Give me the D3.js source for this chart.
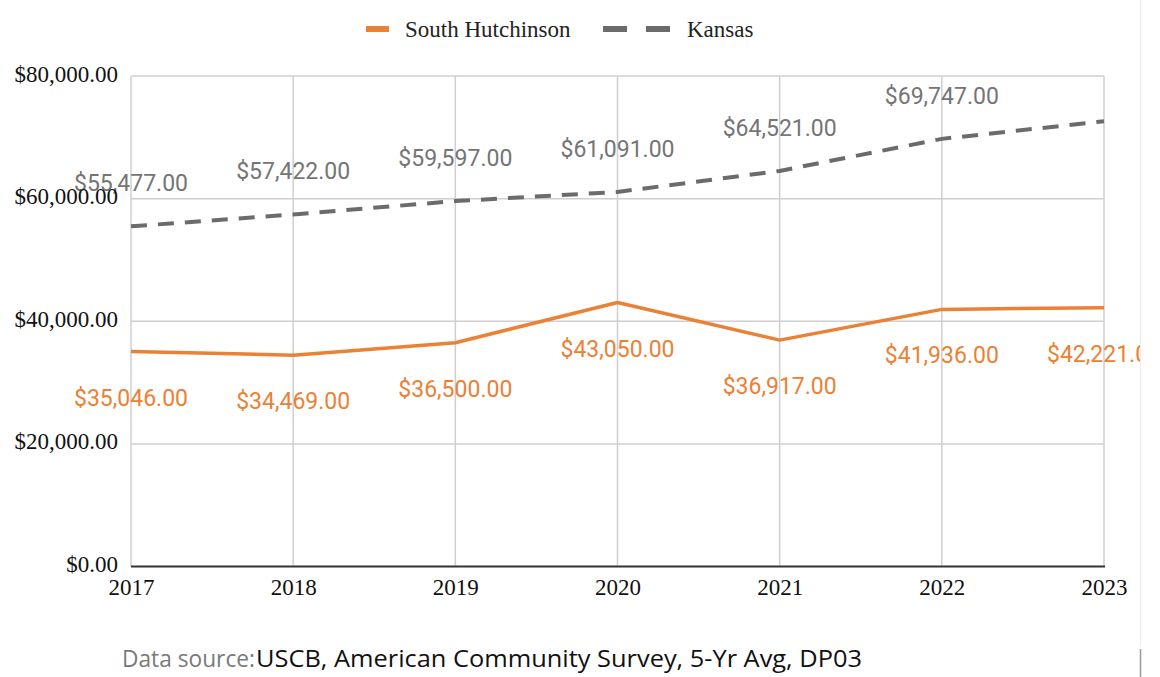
<!DOCTYPE html>
<html>
<head>
<meta charset="utf-8">
<script src="https://cdn.jsdelivr.net/npm/d3@7"></script>
<style>
  html, body { margin: 0; padding: 0; background: #fff; }
  svg { display: block; }
</style>
</head>
<body>
<svg id="chart" width="1160" height="677"></svg>
<script>
// Median household income, 5-year ACS estimates
const years = ["2017", "2018", "2019", "2020", "2021", "2022", "2023"];
const southHutchinson = [35046, 34469, 36500, 43050, 36917, 41936, 42221];
const kansas = [55477, 57422, 59597, 61091, 64521, 69747, 72620];
const kansasLabelShown = [true, true, true, true, true, true, false];
const yTicks = [0, 20000, 40000, 60000, 80000];
const seriesNames = ["South Hutchinson", "Kansas"];

const W = 1160, H = 677;
const plot = { left: 131, right: 1104, top: 76, bottom: 566.5 };
const ORANGE = "#eb8135";
const GREY = "#6b6b6b";
const LABEL_GREY = "#757575";
const SERIF = "'Liberation Serif', 'Times New Roman', serif";
const SANS = "Roboto, 'Liberation Sans', sans-serif";

const svg = d3.select("#chart");

const x = d3.scalePoint().domain(years).range([plot.left, plot.right]);
const y = d3.scaleLinear().domain([0, 80000]).range([plot.bottom, plot.top]);
const money = v => "$" + d3.format(",.2f")(v);

svg.append("defs").append("clipPath").attr("id", "chartClip")
  .append("rect").attr("x", 0).attr("y", 0).attr("width", 1140).attr("height", H);

const g = svg.append("g").attr("clip-path", "url(#chartClip)");

// horizontal gridlines
g.append("g").selectAll("line").data(yTicks.filter(t => t > 0)).join("line")
  .attr("x1", plot.left).attr("x2", plot.right)
  .attr("y1", d => y(d)).attr("y2", d => y(d))
  .attr("stroke", "#cfcfcf").attr("stroke-width", 1.5);

// vertical gridlines
g.append("g").selectAll("line").data(years).join("line")
  .attr("x1", d => x(d)).attr("x2", d => x(d))
  .attr("y1", plot.top).attr("y2", plot.bottom)
  .attr("stroke", "#cfcfcf").attr("stroke-width", 1.5);

// baseline
g.append("line")
  .attr("x1", plot.left).attr("x2", plot.right + 1)
  .attr("y1", y(0)).attr("y2", y(0))
  .attr("stroke", "#333").attr("stroke-width", 2);

// y-axis labels
const yAxis = d3.axisLeft(y).tickValues(yTicks).tickSize(0).tickPadding(13).tickFormat(money);
const yg = svg.append("g").attr("transform", `translate(${plot.left},0)`).call(yAxis);
yg.select(".domain").remove();
yg.selectAll("text")
  .attr("font-family", SERIF).attr("font-size", 23).attr("fill", "#111")
  .attr("dy", "0.22em");

// x-axis labels
const xAxis = d3.axisBottom(x).tickSize(0).tickPadding(12);
const xg = svg.append("g").attr("transform", `translate(0,${plot.bottom})`).call(xAxis);
xg.select(".domain").remove();
xg.selectAll("text")
  .attr("font-family", SERIF).attr("font-size", 23).attr("fill", "#111");

// series lines
const line = d3.line().x((d, i) => x(years[i])).y(d => y(d));

g.append("path").datum(kansas)
  .attr("d", line).attr("fill", "none")
  .attr("stroke", GREY).attr("stroke-width", 4)
  .attr("stroke-dasharray", "16 11");

g.append("path").datum(southHutchinson)
  .attr("d", line).attr("fill", "none")
  .attr("stroke", ORANGE).attr("stroke-width", 3.5)
  .attr("stroke-linejoin", "round");

// data labels
g.append("g").selectAll("text").data(kansas.filter((d, i) => kansasLabelShown[i])).join("text")
  .attr("x", (d, i) => x(years[i]))
  .attr("y", d => y(d) - 43)
  .attr("dy", "0.35em")
  .attr("text-anchor", "middle")
  .attr("font-family", SANS).attr("font-size", 23).attr("fill", LABEL_GREY)
  .text(money);

g.append("g").selectAll("text").data(southHutchinson).join("text")
  .attr("x", (d, i) => x(years[i]))
  .attr("y", d => y(d) + 46)
  .attr("dy", "0.35em")
  .attr("text-anchor", "middle")
  .attr("font-family", SANS).attr("font-size", 23).attr("fill", ORANGE)
  .text(money);

// legend
const legend = svg.append("g");
legend.append("rect").attr("x", 366).attr("y", 26).attr("width", 23).attr("height", 6).attr("fill", ORANGE);
legend.append("text").attr("x", 405).attr("y", 29).attr("dy", "0.33em")
  .attr("font-family", SERIF).attr("font-size", 23).attr("fill", "#222").text(seriesNames[0]);
legend.append("rect").attr("x", 603).attr("y", 26).attr("width", 24).attr("height", 6).attr("fill", GREY);
legend.append("rect").attr("x", 646).attr("y", 26).attr("width", 24).attr("height", 6).attr("fill", GREY);
legend.append("text").attr("x", 687).attr("y", 29).attr("dy", "0.33em")
  .attr("font-family", SERIF).attr("font-size", 23).attr("fill", "#222").text(seriesNames[1]);

// right frame edge
svg.append("line").attr("x1", 1140.5).attr("x2", 1140.5).attr("y1", 0).attr("y2", 646)
  .attr("stroke", "#ececec").attr("stroke-width", 1);
svg.append("line").attr("x1", 1140.5).attr("x2", 1140.5).attr("y1", 649).attr("y2", H)
  .attr("stroke", "#9a9a9a").attr("stroke-width", 1.5);

// source note
svg.append("text").attr("x", 122).attr("y", 667)
  .attr("font-family", "'Open Sans', 'Noto Sans', sans-serif").attr("font-size", 23).attr("fill", "#7a7a7a")
  .attr("textLength", 133).attr("lengthAdjust", "spacingAndGlyphs")
  .text("Data source:");
svg.append("text").attr("x", 256).attr("y", 667)
  .attr("font-family", "'Open Sans', 'Noto Sans', sans-serif").attr("font-size", 23).attr("fill", "#111")
  .attr("textLength", 606).attr("lengthAdjust", "spacingAndGlyphs")
  .text("USCB, American Community Survey, 5-Yr Avg, DP03");
</script>
</body>
</html>
